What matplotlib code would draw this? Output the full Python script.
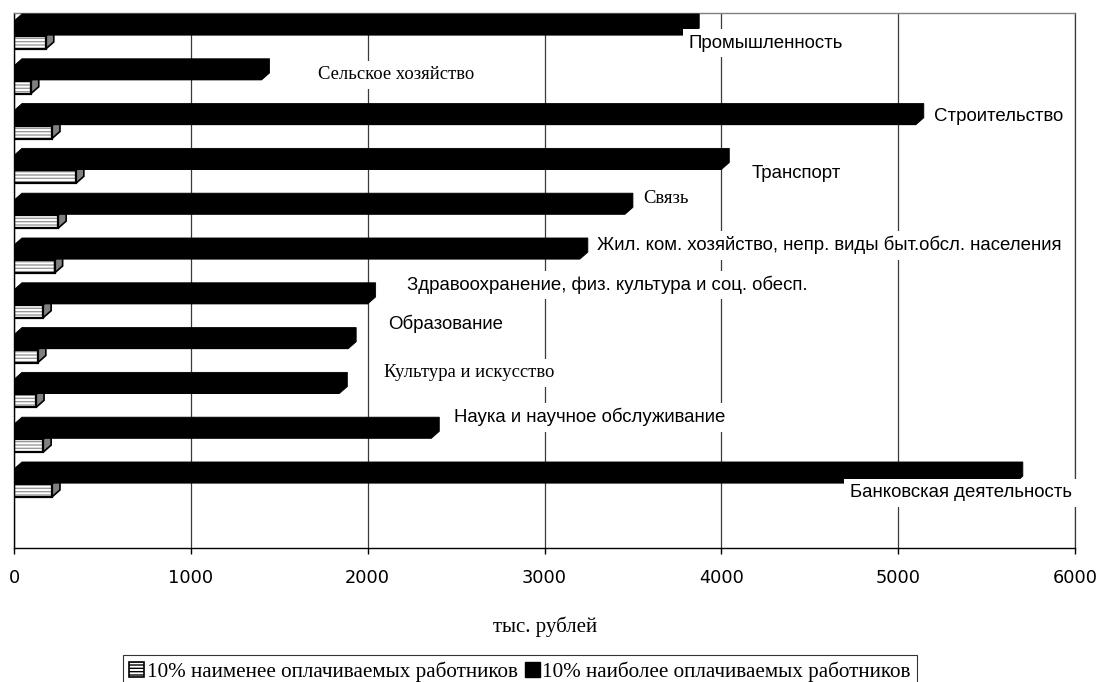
import matplotlib
matplotlib.use('Agg')
import matplotlib.pyplot as plt
from matplotlib.patches import Polygon, Patch

# ---------------- data ----------------
categories = [
    'Промышленность',
    'Сельское хозяйство',
    'Строительство',
    'Транспорт',
    'Связь',
    'Жил. ком. хозяйство, непр. виды быт.обсл. населения',
    'Здравоохранение, физ. культура и соц. обесп.',
    'Образование',
    'Культура и искусство',
    'Наука и научное обслуживание',
    'Банковская деятельность',
]
top10 = [3830, 1400, 5100, 4000, 3455, 3200, 2000, 1890, 1840, 2360, 5660]
bottom10 = [180, 95, 215, 350, 250, 230, 165, 135, 125, 165, 215]
series_names = ['10% наименее оплачиваемых работников',
                '10% наиболее оплачиваемых работников']
x_ticks = [0, 1000, 2000, 3000, 4000, 5000, 6000]
axis_title = 'тыс. рублей'

# label placement (x in data units, y in category units) and font style
serif_labels = ['Сельское хозяйство', 'Связь', 'Культура и искусство']
label_pos = [(3812, 0.65), (1719, 1.36), (5203, 2.28), (4174, 3.57), (3557, 4.11),
             (3297, 5.16), (2222, 6.05), (2115, 6.92), (2092, 8.01), (2490, 9.0),
             (4725, 10.69)]

# ---------------- geometry / style ----------------
W, H, DPI = 1098, 682, 100
fig = plt.figure(figsize=(W / DPI, H / DPI), dpi=DPI)
ax = fig.add_axes([14 / W, 1 - 548 / H, (1075 - 14) / W, (548 - 13) / H])

blk_top, blk_bot = 0.156, 0.472
hat_top, hat_bot = 0.49, 0.78
dy = 0.156
dx = 45

for i, (v, h) in enumerate(zip(top10, bottom10)):
    # hatched (lowest paid) bar
    yt, yb = i + hat_top, i + hat_bot
    ax.barh(i + (hat_top + hat_bot) / 2, h, height=hat_bot - hat_top, left=0,
            facecolor='white', edgecolor='#9a9a9a', hatch='-----', linewidth=0, zorder=2)
    ax.barh(i + (hat_top + hat_bot) / 2, h, height=hat_bot - hat_top, left=0,
            fill=False, edgecolor='black', linewidth=1.6, zorder=2.1)
    ax.add_patch(Polygon([(0, yt), (dx, yt - dy), (h + dx, yt - dy), (h, yt)], closed=True,
                         facecolor='#c0c0c0', edgecolor='black', linewidth=1.2, zorder=2.05))
    ax.add_patch(Polygon([(h, yt), (h + dx, yt - dy), (h + dx, yb - dy), (h, yb)], closed=True,
                         facecolor='#808080', edgecolor='black', linewidth=1.2, zorder=2.05))
    # black (highest paid) bar: front face + top/side faces as one solid shape
    yt, yb = i + blk_top, i + blk_bot
    ax.barh(i + (blk_top + blk_bot) / 2, v, height=blk_bot - blk_top, left=0,
            color='black', linewidth=0, zorder=3)
    ax.add_patch(Polygon([(0, yb), (0, yt), (dx, yt - dy), (v + dx, yt - dy),
                          (v + dx, yb - dy), (v, yb)], closed=True, facecolor='black',
                         edgecolor='black', linewidth=0.6, zorder=3.1))

# labels with white boxes
for name, (lx, ly) in zip(categories, label_pos):
    fam = 'Liberation Serif' if name in serif_labels else 'Liberation Sans'
    ax.text(lx, ly, name, ha='left', va='center', fontsize=13.4, family=fam,
            bbox=dict(boxstyle='square,pad=0.28', facecolor='white', edgecolor='none'),
            zorder=6, clip_on=False)

ax.set_xlim(0, 6000)
ax.set_ylim(11.92, -0.022)
ax.set_xticks(x_ticks)
ax.set_xticklabels([str(t) for t in x_ticks], fontsize=12.8, family='DejaVu Sans')
ax.set_yticks([])
ax.tick_params(axis='x', direction='out', length=4, width=1, pad=11, colors='black')
ax.xaxis.grid(True, color='#3a3a3a', linewidth=0.9)
ax.set_axisbelow(True)
for s in ['left', 'bottom']:
    ax.spines[s].set_color('black')
    ax.spines[s].set_linewidth(1)
ax.spines['top'].set_color('#808080')
ax.spines['top'].set_linewidth(1)
ax.spines['right'].set_color('#3a3a3a')
ax.spines['right'].set_linewidth(0.9)

fig.text(545 / W, 1 - 627 / H, axis_title, ha='center', va='center', fontsize=15,
         family='Liberation Serif')

# legend
handles = [Patch(facecolor='white', edgecolor='black', hatch='-----', linewidth=1.2),
           Patch(facecolor='black', edgecolor='black')]
leg = fig.legend(handles, series_names, loc='upper center', ncol=2,
                 bbox_to_anchor=(520 / W, 1 - 655 / H), frameon=True, fancybox=False,
                 shadow=False, prop={'family': 'Liberation Serif', 'size': 15.2},
                 handlelength=0.7, handleheight=0.7, handletextpad=0.12,
                 columnspacing=0.35, borderpad=0.3, borderaxespad=0)
leg.get_frame().set_edgecolor('black')
leg.get_frame().set_linewidth(0.8)

fig.savefig('out.png', dpi=DPI)
